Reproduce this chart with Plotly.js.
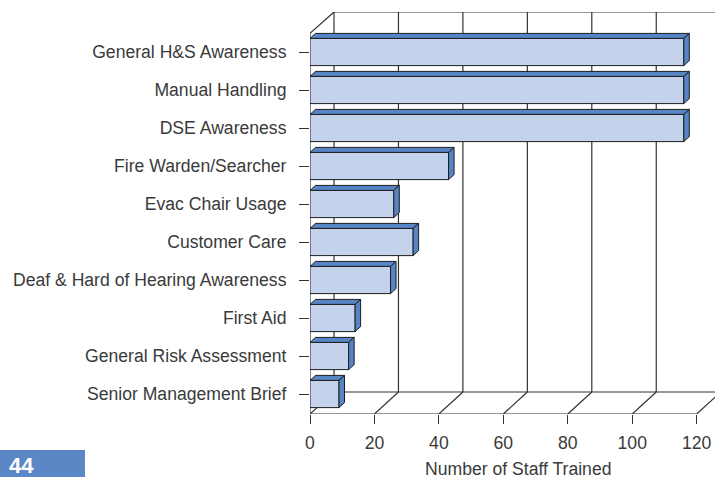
<!DOCTYPE html>
<html>
<head>
<meta charset="utf-8">
<script src="https://cdn.plot.ly/plotly-3.0.1.min.js"></script>
<style>html,body{margin:0;padding:0;background:#fff;}#chart{width:715px;height:477px;}</style>
</head>
<body>
<div id="chart"></div>
<script>
// ---- data ----
const categories = [
  "General H&S Awareness",
  "Manual Handling",
  "DSE Awareness",
  "Fire Warden/Searcher",
  "Evac Chair Usage",
  "Customer Care",
  "Deaf & Hard of Hearing Awareness",
  "First Aid",
  "General Risk Assessment",
  "Senior Management Brief"
];
const staffTrained = [116, 116, 116, 43, 26, 32, 25, 14, 12, 9];
const xTicks = [0, 20, 40, 60, 80, 100, 120];
const xTitle = "Number of Staff Trained";
const pageNumber = "44";

// ---- geometry (pixel layout) ----
const W = 715, H = 477;
const mL = 310, mR = 0, mT = 12, mB = 63;
const plotW = W - mL - mR, plotH = H - mT - mB;
const pxPerX = 3.2225;
const pxPerY = 38;
const xMax = plotW / pxPerX;
const yTop = -(52 - mT) / pxPerY;
const yBot = 9 + (414 - 394) / pxPerY;
const DX = 24 / pxPerX, DY = 22 / pxPerY;
const frontTop = -(52 - 33.3) / pxPerY;
const backFloor = yBot - DY;
const half = 13.6 / pxPerY;
const bdx = 5.5 / pxPerX, bdy = 5 / pxPerY;

const gridCol = "#333333";
const faceCol = "#5784c4";
const frontCol = "#c4d2ec";
const edgeCol = "#1e1e1e";
const textCol = "#3a3a3a";
const txtFont = {family: "Liberation Sans, Arial, sans-serif", size: 17.6, color: textCol};
const idx = categories.map((c, i) => i);

const traces = [];
traces.push({
  type: "bar", orientation: "h",
  x: staffTrained, y: idx, width: half * 2,
  marker: {color: frontCol, line: {color: edgeCol, width: 1}},
  hoverinfo: "x+text", text: categories, textposition: "none",
  showlegend: false
});
staffTrained.forEach((v, i) => {
  const t = i - half, b = i + half;
  traces.push({
    type: "scatter", mode: "lines", fill: "toself", fillcolor: faceCol,
    line: {color: edgeCol, width: 1}, hoverinfo: "skip", showlegend: false,
    x: [0, v, v + bdx, bdx, 0],
    y: [t, t, t - bdy, t - bdy, t]
  });
  traces.push({
    type: "scatter", mode: "lines", fill: "toself", fillcolor: faceCol,
    line: {color: edgeCol, width: 1}, hoverinfo: "skip", showlegend: false,
    x: [v, v, v + bdx, v + bdx, v],
    y: [t, b, b - bdy, t - bdy, t]
  });
});

const shapes = [];
function ln(x0, y0, x1, y1) {
  shapes.push({type: "line", xref: "x", yref: "y", x0, y0, x1, y1, layer: "below",
    line: {color: gridCol, width: 1.2}});
}
xTicks.forEach(t => {
  ln(t + DX, yTop, t + DX, backFloor);
  ln(t, yBot, t + DX, backFloor);
});
ln(DX, yTop, xMax, yTop);
ln(DX, backFloor, xMax, backFloor);
ln(0, yBot, xTicks[xTicks.length - 1], yBot);
ln(0, frontTop, 0, yBot);
ln(0, frontTop, DX, yTop);

const px = x => (x - mL) / plotW;
const py = y => (H - mB - y) / plotH;
shapes.push({type: "rect", xref: "paper", yref: "paper", x0: px(0), x1: px(85), y0: py(450), y1: py(477),
  fillcolor: "#5b87c6", line: {width: 0}, layer: "above"});

const layout = {
  width: W, height: H,
  margin: {l: mL, r: mR, t: mT, b: mB, pad: 0},
  paper_bgcolor: "#fff", plot_bgcolor: "rgba(0,0,0,0)",
  font: txtFont,
  showlegend: false,
  xaxis: {
    range: [0, xMax], tickvals: xTicks, ticktext: xTicks.map(String),
    ticks: "outside", ticklen: 9, tickcolor: gridCol, tickwidth: 1,
    showgrid: false, zeroline: false, showline: false, fixedrange: true,
    ticklabelstandoff: 4, tickfont: txtFont
  },
  yaxis: {
    range: [yBot, yTop], tickvals: idx, ticktext: categories,
    ticks: "outside", ticklen: 10, tickcolor: gridCol, tickwidth: 1,
    showgrid: false, zeroline: false, showline: false, fixedrange: true,
    ticklabelstandoff: 9, tickfont: txtFont
  },
  shapes: shapes,
  annotations: [
    {text: xTitle, xref: "paper", yref: "paper", x: px(518), y: py(469),
     xanchor: "center", yanchor: "middle", showarrow: false,
     font: txtFont},
    {text: "<b>" + pageNumber + "</b>", xref: "paper", yref: "paper", x: px(7), y: py(465),
     xanchor: "left", yanchor: "middle", showarrow: false,
     font: {family: "Liberation Sans, Arial, sans-serif", size: 22, color: "#ffffff"}}
  ]
};

Plotly.newPlot("chart", traces, layout, {displayModeBar: false, staticPlot: true});
</script>
</body>
</html>
